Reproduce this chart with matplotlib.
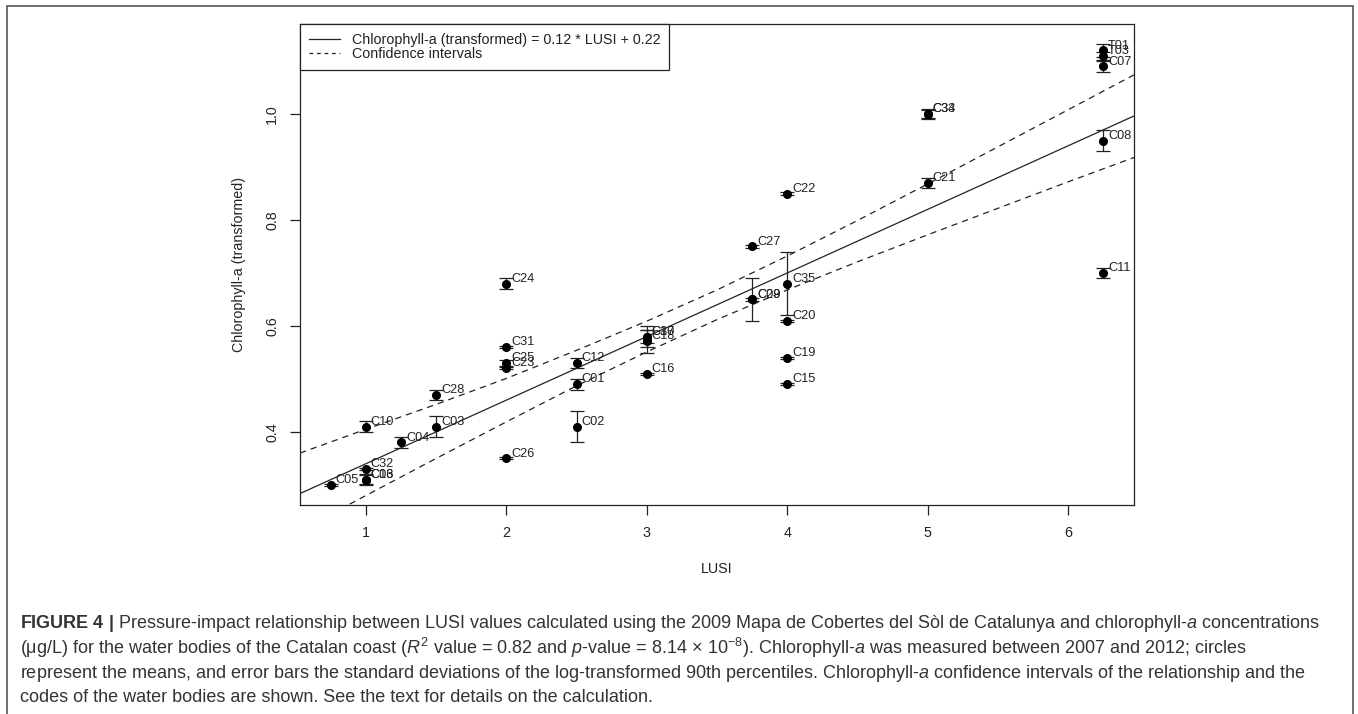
"""
    LUSI vs chlorophyll-a (transformed) scatter with regression and CI
"""

import numpy as np
import matplotlib.pyplot as plt
from matplotlib.lines import Line2D
from matplotlib.patches import Rectangle

plt.rcParams['font.family'] = ['Liberation Sans', 'DejaVu Sans']
plt.rcParams['mathtext.fontset'] = 'custom'
plt.rcParams['mathtext.rm'] = 'Liberation Sans'
plt.rcParams['mathtext.it'] = 'Liberation Sans:italic'
plt.rcParams['mathtext.bf'] = 'Liberation Sans:bold'

# water body codes, LUSI value, mean chl-a (transformed) and its sd
codes = ['T01', 'T03', 'C07', 'C08', 'C11',
         'C33', 'C34', 'C21',
         'C22', 'C35', 'C20', 'C19', 'C15',
         'C27', 'C09', 'C29',
         'C30', 'C17', 'C18', 'C16',
         'C12', 'C01', 'C02',
         'C24', 'C31', 'C25', 'C23', 'C26',
         'C28', 'C03',
         'C10', 'C32', 'C06', 'C13',
         'C04', 'C05']
lusi = [6.25, 6.25, 6.25, 6.25, 6.25,
        5, 5, 5,
        4, 4, 4, 4, 4,
        3.75, 3.75, 3.75,
        3, 3, 3, 3,
        2.5, 2.5, 2.5,
        2, 2, 2, 2, 2,
        1.5, 1.5,
        1, 1, 1, 1,
        1.25, 0.75]
chla = [1.12, 1.11, 1.09, 0.95, 0.70,
        1.00, 1.00, 0.87,
        0.85, 0.68, 0.61, 0.54, 0.49,
        0.75, 0.65, 0.65,
        0.58, 0.58, 0.571, 0.51,
        0.53, 0.49, 0.41,
        0.68, 0.56, 0.53, 0.52, 0.35,
        0.47, 0.41,
        0.41, 0.33, 0.31, 0.31,
        0.38, 0.30]
chla_sd = [0.012, 0.008, 0.01, 0.02, 0.01,
           0.01, 0.008, 0.01,
           0.002, 0.06, 0.002, 0.002, 0.002,
           0.002, 0.04, 0.002,
           0.02, 0.013, 0.022, 0.002,
           0.01, 0.01, 0.03,
           0.01, 0.002, 0.006, 0.002, 0.002,
           0.01, 0.02,
           0.01, 0.002, 0.01, 0.008,
           0.01, 0.002]

# fitted relationship (legend) and confidence band
slope = 0.12
intercept = 0.22
ci_x = [0.53, 1, 1.5, 2, 2.5, 3, 3.5, 4, 4.5, 5, 5.5, 6, 6.47]
ci_upper = [0.360, 0.405, 0.452, 0.501, 0.554, 0.609, 0.668, 0.732,
            0.799, 0.868, 0.938, 1.008, 1.074]
ci_lower = [0.214, 0.280, 0.350, 0.419, 0.487, 0.551, 0.612, 0.668,
            0.721, 0.772, 0.822, 0.872, 0.918]

caption = [
    r"$\mathbf{FIGURE\ 4\ |}$ Pressure-impact relationship between LUSI values "
    r"calculated using the 2009 Mapa de Cobertes del Sòl de Catalunya and "
    r"chlorophyll-$a$ concentrations",
    r"(μg/L) for the water bodies of the Catalan coast ($R^2$ value = 0.82 and "
    r"$p$-value = 8.14 × 10$^{-8}$). Chlorophyll-$a$ was measured between 2007 "
    r"and 2012; circles",
    r"represent the means, and error bars the standard deviations of the "
    r"log-transformed 90th percentiles. Chlorophyll-$a$ confidence intervals of "
    r"the relationship and the",
    r"codes of the water bodies are shown. See the text for details on the "
    r"calculation.",
]

W, H = 1358, 714
ink = '#222222'
fig = plt.figure(figsize=(W / 100, H / 100), dpi=100)
ax = fig.add_axes([300 / W, 1 - 505 / H, 834 / W, 481 / H])

xl = np.array([0.53, 6.47])
ax.plot(xl, slope * xl + intercept, color=ink, lw=0.9)
ax.plot(ci_x, ci_upper, color=ink, lw=0.9, dashes=(5, 4))
ax.plot(ci_x, ci_lower, color=ink, lw=0.9, dashes=(5, 4))

ax.errorbar(lusi, chla, yerr=chla_sd, fmt='o', color='black', ms=5.5,
            ecolor=ink, elinewidth=0.9, capsize=5, capthick=0.9, zorder=3)
for c, x, y in zip(codes, lusi, chla):
    ax.annotate(c, (x, y), xytext=(3.5, 3.5), textcoords='offset points',
                ha='left', va='center', fontsize=9.2, color=ink)

ax.set_xlim(0.53, 6.47)
ax.set_ylim(0.262, 1.17)
ax.set_xticks([1, 2, 3, 4, 5, 6])
ax.set_yticks([0.4, 0.6, 0.8, 1.0])
ax.set_yticklabels(['0.4', '0.6', '0.8', '1.0'], rotation=90, va='center')
ax.tick_params(direction='out', length=7, width=0.9, color=ink,
               labelsize=10.3, labelcolor=ink, pad=8)
for s in ax.spines.values():
    s.set_color(ink)
    s.set_linewidth(0.9)
ax.set_xlabel('LUSI', fontsize=10.3, color=ink, labelpad=16)
ax.set_ylabel('Chlorophyll-a (transformed)', fontsize=10.3, color=ink,
              labelpad=14)

handles = [Line2D([], [], color=ink, lw=0.9),
           Line2D([], [], color=ink, lw=0.9, dashes=(3, 3))]
leg = ax.legend(handles, ['Chlorophyll-a (transformed) = 0.12 * LUSI + 0.22',
                          'Confidence intervals'],
                loc='upper left', bbox_to_anchor=(0, 1), borderaxespad=0,
                fontsize=10.3, fancybox=False, framealpha=1, edgecolor=ink,
                handlelength=2.2, labelspacing=0.05, borderpad=0.6)
leg.get_frame().set_linewidth(0.9)
for t in leg.get_texts():
    t.set_color(ink)

fig.add_artist(Rectangle((7 / W, -0.05), 1346 / W, 1.05 - 6 / H,
                         transform=fig.transFigure, fill=False,
                         edgecolor='#555555', lw=1.2))

for i, line in enumerate(caption):
    fig.text(20 / W, 1 - (623 + i * 25) / H, line, fontsize=13,
             color='#333333', va='center', ha='left')

fig.savefig('out.png', dpi=100)
